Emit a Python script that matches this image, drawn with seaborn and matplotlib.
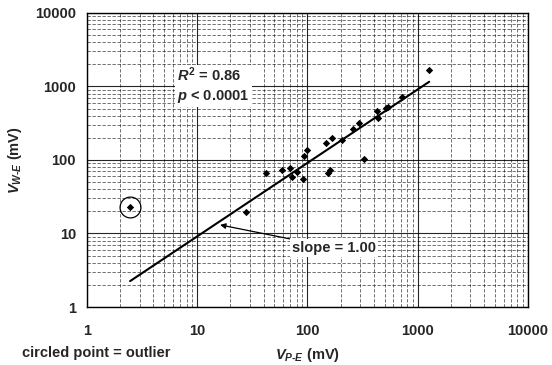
import numpy as np
import pandas as pd
import matplotlib
matplotlib.use('Agg')
import matplotlib.pyplot as plt
import seaborn as sns
from matplotlib.ticker import FixedLocator, FuncFormatter, LogLocator, NullFormatter

# Data (mV)
v_pe = [2.46, 27.5, 42, 59, 70, 73, 80, 91, 93, 98, 147, 155, 160, 166,
        204, 257, 295, 327, 430, 439, 515, 541, 715, 1273]
v_we = [22.9, 19.4, 66, 72, 79, 59, 69, 55, 113, 137, 169, 66, 72, 197,
        189, 262, 322, 102, 464, 369, 505, 531, 713, 1676]
outlier_x = [2.46]
outlier_y = [22.9]
fit_x = [2.46, 1270]
fit_y = [2.25, 1160]
tick_vals = [1, 10, 100, 1000, 10000]

sns.set_theme(style="white")
plt.rcParams['font.family'] = ['Liberation Sans', 'DejaVu Sans']
plt.rcParams['font.weight'] = 'bold'
plt.rcParams['mathtext.fontset'] = 'custom'
plt.rcParams['mathtext.it'] = 'Liberation Sans:bold:italic'
plt.rcParams['mathtext.rm'] = 'Liberation Sans:bold'
plt.rcParams['mathtext.bf'] = 'Liberation Sans:bold'

df = pd.DataFrame({'x': v_pe, 'y': v_we})
fit = pd.DataFrame({'x': fit_x, 'y': fit_y})

fig = plt.figure(figsize=(5.52, 3.65), dpi=100)
ax = fig.add_axes([0.1576, 0.1589, 0.7989, 0.8055])
ax.set_xscale('log')
ax.set_yscale('log')
ax.set_xlim(1, 10000)
ax.set_ylim(1, 10000)

# grid
ax.xaxis.set_minor_locator(LogLocator(base=10, subs=np.arange(2, 10)))
ax.yaxis.set_minor_locator(LogLocator(base=10, subs=np.arange(2, 10)))
ax.xaxis.set_minor_formatter(NullFormatter())
ax.yaxis.set_minor_formatter(NullFormatter())
ax.grid(True, which='major', color='black', linestyle='-', linewidth=0.8, alpha=0.85)
ax.grid(True, which='minor', color='black', linestyle=(0, (4, 2)), linewidth=0.6, alpha=0.65)
ax.set_axisbelow(True)

sns.lineplot(data=fit, x='x', y='y', color='black', linewidth=1.5, ax=ax, zorder=3)
sns.scatterplot(data=df, x='x', y='y', marker='D', s=14, color='black',
                edgecolor='black', linewidth=0, ax=ax, zorder=4)
ax.plot(outlier_x, outlier_y, marker='o', markersize=15, mfc='none',
        mec='black', mew=0.9, linestyle='none', zorder=4)

ax.xaxis.set_major_locator(FixedLocator(tick_vals))
ax.yaxis.set_major_locator(FixedLocator(tick_vals))
fmt = FuncFormatter(lambda v, p: f'{int(round(v))}')
ax.xaxis.set_major_formatter(fmt)
ax.yaxis.set_major_formatter(fmt)
ax.tick_params(axis='x', which='major', labelsize=10.5, length=0, pad=12)
ax.tick_params(axis='y', which='major', labelsize=10.5, length=0, pad=8)
ax.tick_params(axis='both', which='minor', length=0)
for lbl in ax.get_xticklabels() + ax.get_yticklabels():
    lbl.set_fontweight('bold')

for s in ax.spines.values():
    s.set_color('black')
    s.set_linewidth(1.0)

ax.set_xlabel(r'$V_{P\text{-}E}$ (mV)', fontsize=10.5, fontweight='bold', labelpad=6)
ax.set_ylabel(r'$V_{W\text{-}E}$ (mV)', fontsize=10.5, fontweight='bold', labelpad=8)

box = dict(facecolor='white', edgecolor='none', pad=1.5)
ax.text(0.205, 0.755, r'$R^2$ = 0.86' + '\n' + r'$p$ < 0.0001', transform=ax.transAxes,
        fontsize=10.5, fontweight='bold', ha='left', va='center', linespacing=1.3,
        bbox=box, zorder=5)
ax.annotate('slope = 1.00', xy=(16.1, 13.1), xytext=(72, 6.4),
            fontsize=10.5, fontweight='bold', ha='left', va='center',
            bbox=box, zorder=5,
            arrowprops=dict(arrowstyle='-|>', color='black', lw=0.9,
                            mutation_scale=8, shrinkA=0, shrinkB=0))

fig.text(0.04, 0.033, 'circled point = outlier', fontsize=10.5, fontweight='bold',
         ha='left', va='center')

fig.savefig('out.png', dpi=100)
